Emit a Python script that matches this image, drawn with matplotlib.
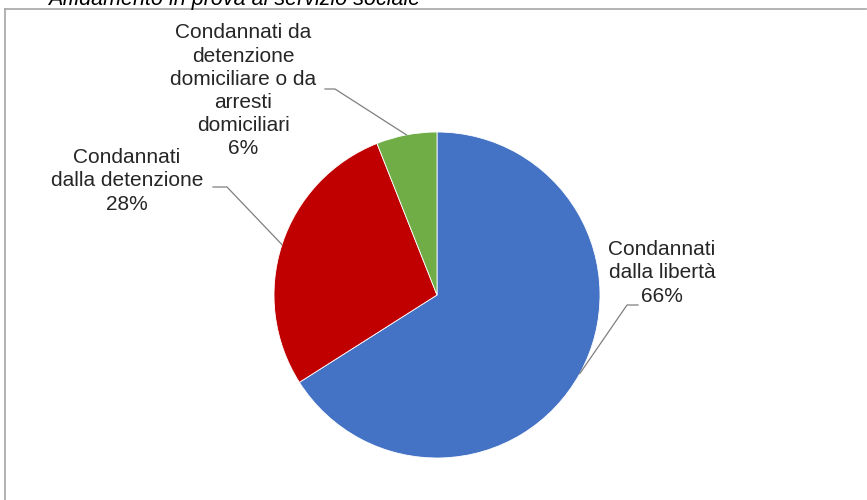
import numpy as np
import matplotlib
matplotlib.use("Agg")
import matplotlib.pyplot as plt

# dati
categorie = ["Condannati\ndalla libertà", "Condannati\ndalla detenzione",
             "Condannati da\ndetenzione\ndomiciliare o da\narresti\ndomiciliari"]
percentuali = [66, 28, 6]
colori = ["#4472C4", "#C00000", "#70AD47"]
titolo = "Affidamento in prova al servizio sociale"

plt.rcParams['font.family'] = ['Liberation Sans', 'DejaVu Sans']

W, H = 867, 500
fig = plt.figure(figsize=(W / 100, H / 100), dpi=100)
ax = fig.add_axes([0, 0, 1, 1])

# centro e raggio in pixel (y dal basso)
cx, cy, r = 437, H - 295, 163
wedges, _ = ax.pie(percentuali, colors=colori, startangle=90, counterclock=False,
                   center=(cx, cy), radius=r, frame=True,
                   wedgeprops=dict(edgecolor="white", linewidth=0.6))
ax.set_xlim(0, W)
ax.set_ylim(0, H)
ax.set_aspect("equal")
ax.axis("off")

# posizioni delle etichette: (x testo, y testo, gomito, fine linea)
etichette = [
    dict(xy=(662, 273), elbow=(627, 305), end=(638, 305)),
    dict(xy=(127, 181), elbow=(227, 187), end=(213, 187)),
    dict(xy=(243, 91), elbow=(335, 89), end=(325, 89)),
]

for w, cat, p, lab in zip(wedges, categorie, percentuali, etichette):
    ang = np.deg2rad((w.theta1 + w.theta2) / 2)
    ax0 = cx + r * np.cos(ang)
    ay0 = cy + r * np.sin(ang)
    ex, ey = lab["elbow"]
    fx, fy = lab["end"]
    ax.plot([ax0, ex, fx], [ay0, H - ey, H - fy], color="#7f7f7f", lw=0.9)
    tx, ty = lab["xy"]
    ax.text(tx, H - ty, f"{cat}\n{p}%", ha="center", va="center",
            fontsize=15, color="#262626", linespacing=1.28)

# titolo tagliato in alto
fig.text(48 / W, 1 - 5 / H, titolo, ha="left", va="baseline", fontsize=15.5,
         style="italic", color="#000000")

# cornice
fig.add_artist(plt.Line2D([5 / W, 866 / W], [1 - 9 / H, 1 - 9 / H],
                          color="#a6a6a6", lw=1.2, transform=fig.transFigure))
fig.add_artist(plt.Line2D([5 / W, 5 / W], [0, 1 - 9 / H],
                          color="#a6a6a6", lw=1.2, transform=fig.transFigure))

fig.savefig("out.png", dpi=100)
